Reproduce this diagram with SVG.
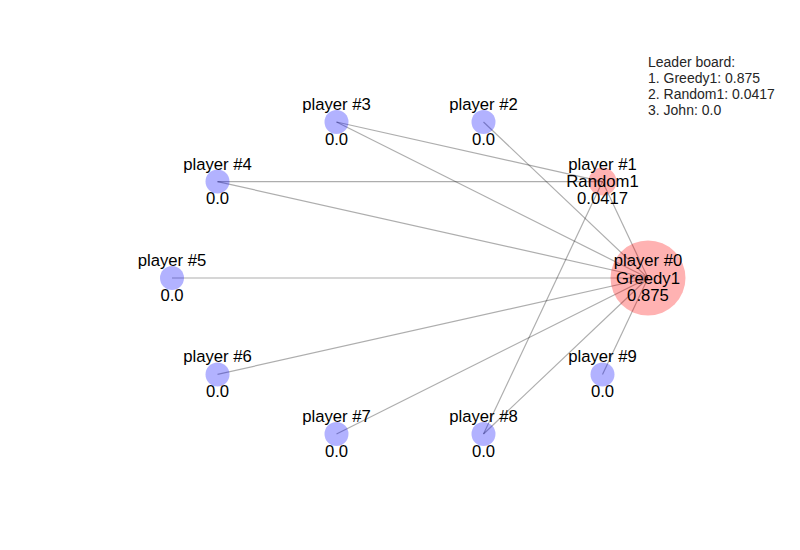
<svg xmlns="http://www.w3.org/2000/svg" width="800" height="550" viewBox="0 0 800 550">
<style>
.e{stroke:#000;stroke-opacity:0.32;stroke-width:1.2;fill:none}
.b{fill:#0000ff;fill-opacity:0.3}
.r{fill:#ff0000;fill-opacity:0.3}
.t{font-family:"Liberation Sans",Arial,sans-serif;font-size:16.7px;fill:#000;text-anchor:middle}
.lb{font-family:"Liberation Sans",Arial,sans-serif;font-size:14px;fill:#262626}
</style>
<rect width="800" height="550" fill="#fff"/>
<g id="edges" class="e">
<line x1="648" y1="278" x2="602.5" y2="181.6"/>
<line x1="648" y1="278" x2="483.5" y2="122"/>
<line x1="648" y1="278" x2="336.5" y2="122"/>
<line x1="648" y1="278" x2="217.5" y2="181.6"/>
<line x1="648" y1="278" x2="172" y2="278"/>
<line x1="648" y1="278" x2="217.5" y2="374.4"/>
<line x1="648" y1="278" x2="336.5" y2="434"/>
<line x1="648" y1="278" x2="483.5" y2="434"/>
<line x1="648" y1="278" x2="602.5" y2="374.4"/>
<line x1="602.5" y1="181.6" x2="336.5" y2="122"/>
<line x1="602.5" y1="181.6" x2="217.5" y2="181.6"/>
<line x1="602.5" y1="181.6" x2="483.5" y2="434"/>
</g>
<g id="node0"><circle class="r" cx="648" cy="278" r="37.5"/><text class="t" x="648" y="266">player #0</text><text class="t" x="648" y="283.5">Greedy1</text><text class="t" x="648" y="300.5">0.875</text></g>
<g id="node1"><circle class="r" cx="602.5" cy="181.6" r="14"/><text class="t" x="602.5" y="169.6">player #1</text><text class="t" x="602.5" y="187.1">Random1</text><text class="t" x="602.5" y="204.1">0.0417</text></g>
<g id="node2"><circle class="b" cx="483.5" cy="122" r="12"/><text class="t" x="483.5" y="110">player #2</text><text class="t" x="483.5" y="144.5">0.0</text></g>
<g id="node3"><circle class="b" cx="336.5" cy="122" r="12"/><text class="t" x="336.5" y="110">player #3</text><text class="t" x="336.5" y="144.5">0.0</text></g>
<g id="node4"><circle class="b" cx="217.5" cy="181.6" r="12"/><text class="t" x="217.5" y="169.6">player #4</text><text class="t" x="217.5" y="204.1">0.0</text></g>
<g id="node5"><circle class="b" cx="172" cy="278" r="12"/><text class="t" x="172" y="266">player #5</text><text class="t" x="172" y="300.5">0.0</text></g>
<g id="node6"><circle class="b" cx="217.5" cy="374.4" r="12"/><text class="t" x="217.5" y="362.4">player #6</text><text class="t" x="217.5" y="396.9">0.0</text></g>
<g id="node7"><circle class="b" cx="336.5" cy="434" r="12"/><text class="t" x="336.5" y="422">player #7</text><text class="t" x="336.5" y="456.5">0.0</text></g>
<g id="node8"><circle class="b" cx="483.5" cy="434" r="12"/><text class="t" x="483.5" y="422">player #8</text><text class="t" x="483.5" y="456.5">0.0</text></g>
<g id="node9"><circle class="b" cx="602.5" cy="374.4" r="12"/><text class="t" x="602.5" y="362.4">player #9</text><text class="t" x="602.5" y="396.9">0.0</text></g>
<g id="leaderboard" class="lb">
<text x="648" y="66.5">Leader board:</text>
<text x="648" y="82.5">1. Greedy1: 0.875</text>
<text x="648" y="98.5">2. Random1: 0.0417</text>
<text x="648" y="114.5">3. John: 0.0</text>
</g>
</svg>
